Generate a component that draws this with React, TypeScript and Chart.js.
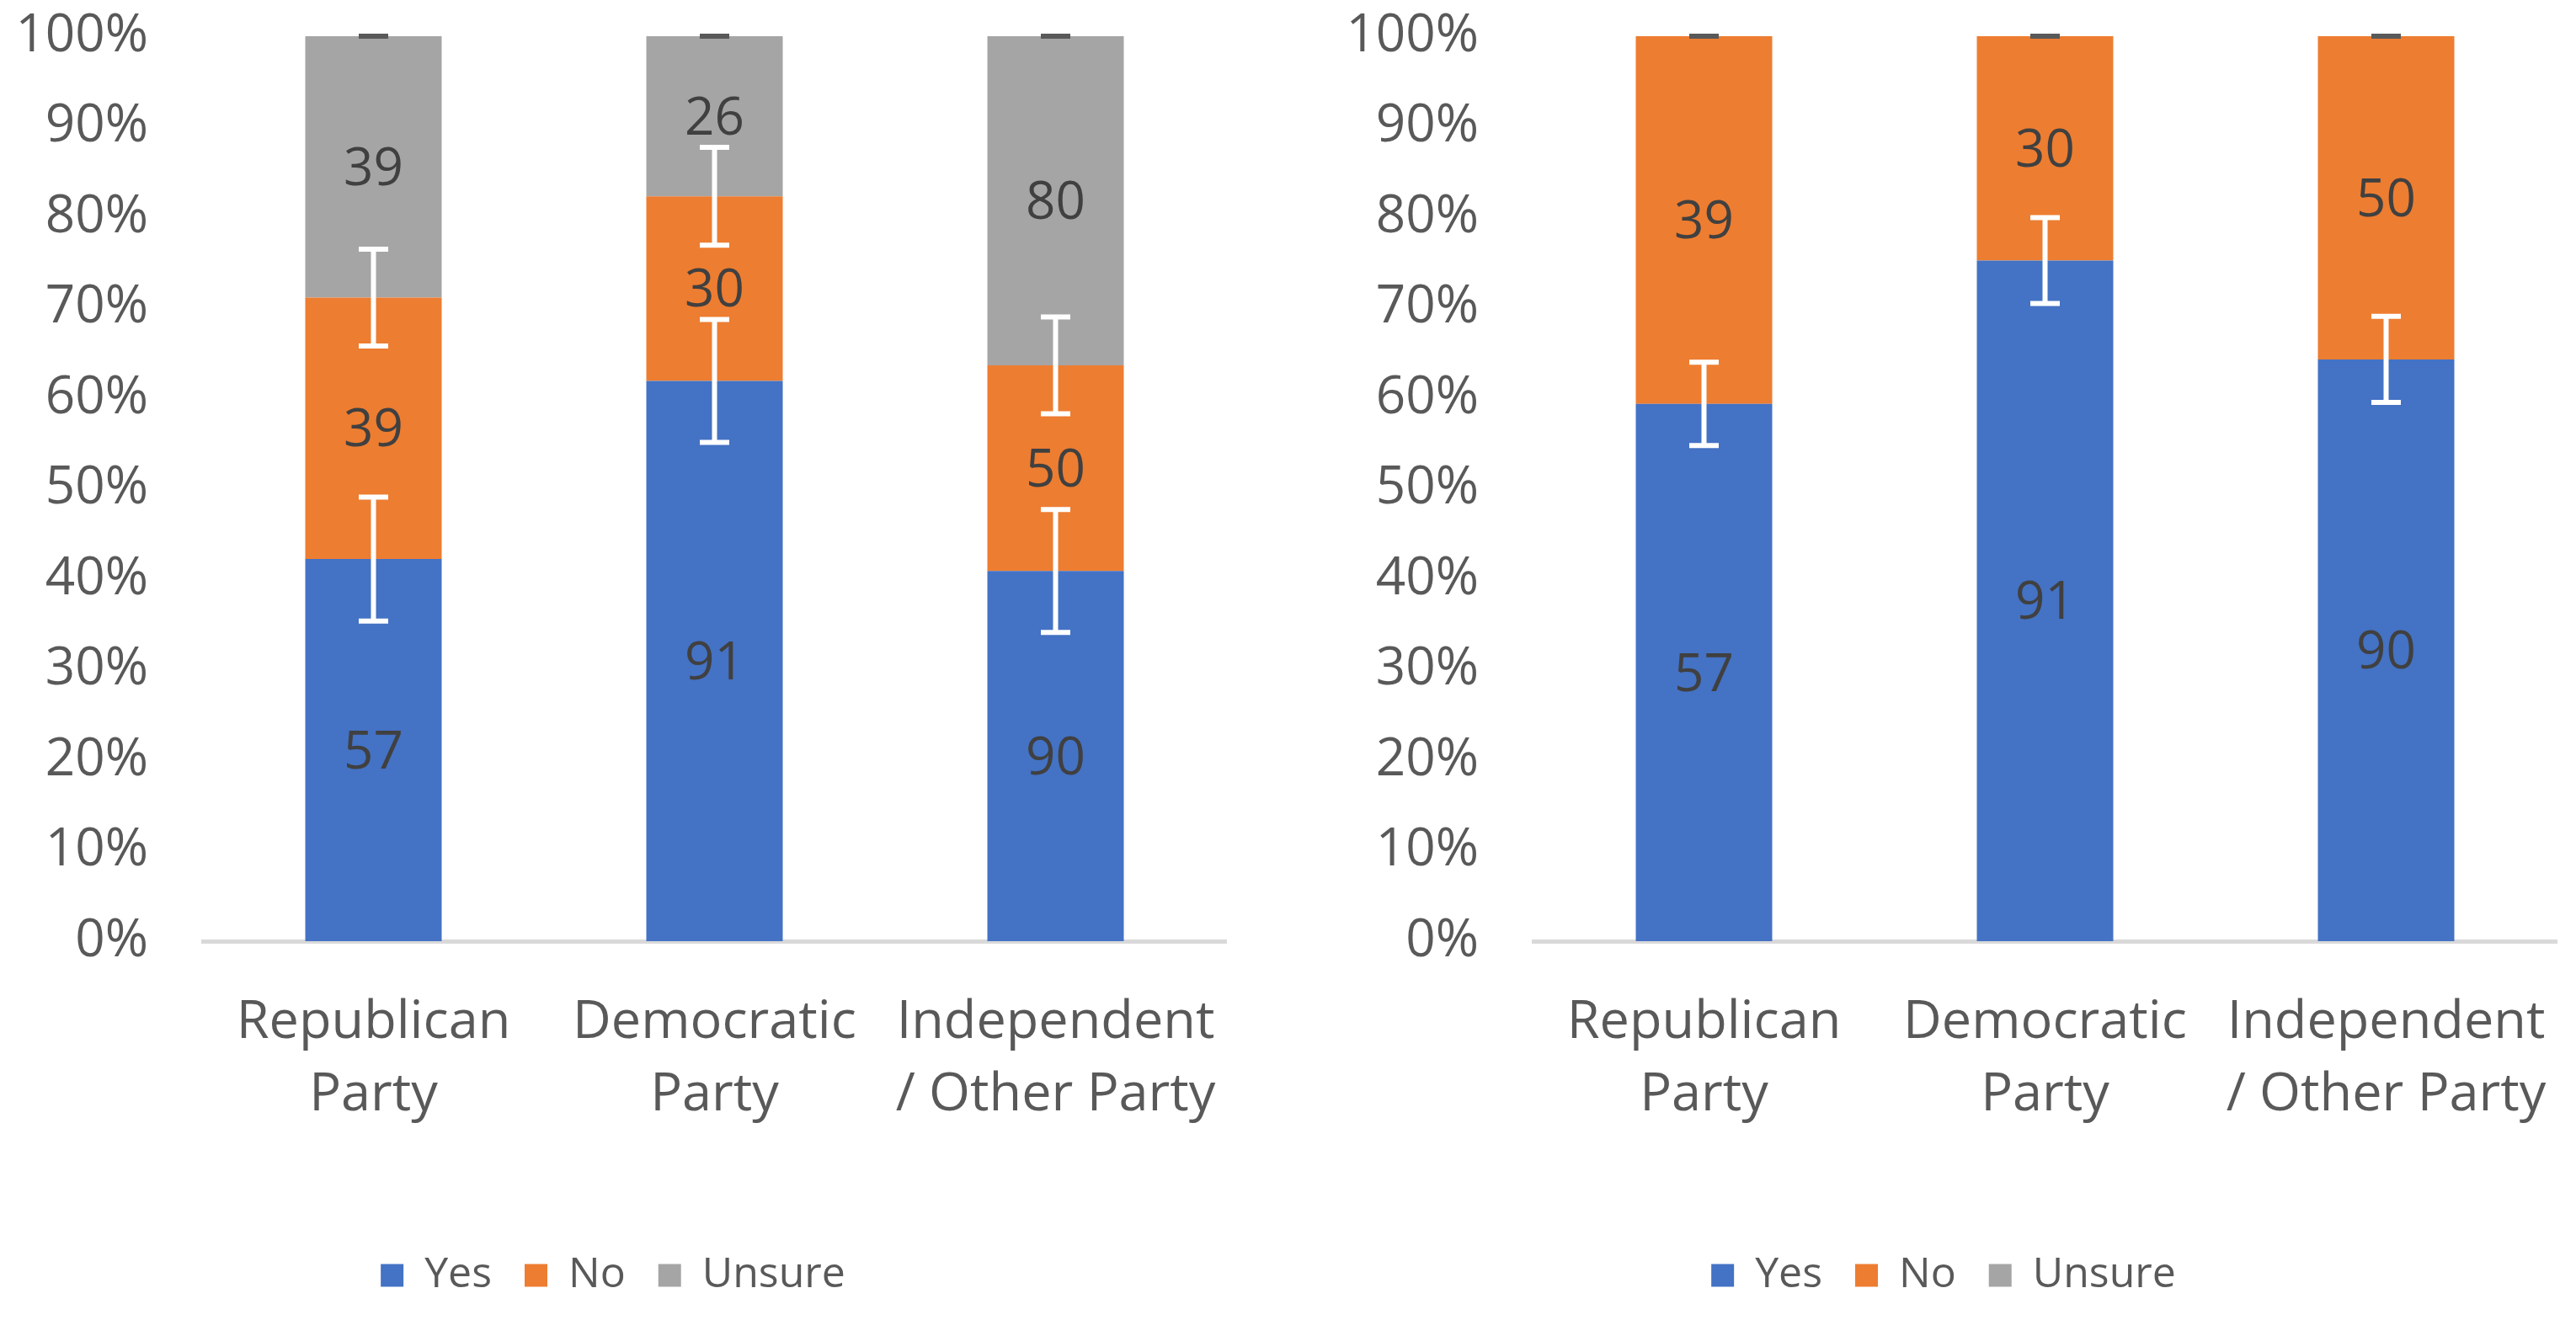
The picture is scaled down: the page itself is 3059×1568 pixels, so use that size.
import React, { useEffect, useRef } from "react";
import { Chart, registerables } from "chart.js";

Chart.register(...registerables);

// ---- data ----
const categories = [
  ["Republican", "Party"],
  ["Democratic", "Party"],
  ["Independent", "/ Other Party"],
];
const seriesNames = ["Yes", "No", "Unsure"];
const seriesColors = ["#4472C4", "#ED7D31", "#A5A5A5"];

// counts shown as data labels (left chart)
const leftYes = [57, 91, 90];
const leftNo = [39, 30, 50];
const leftUnsure = [39, 26, 80];
// counts shown as data labels (right chart)
const rightYes = [57, 91, 90];
const rightNo = [39, 30, 50];
const rightUnsure = [0, 0, 0];

// error margins, percentage points
const leftYesErr = [6.85, 6.8, 6.8];
const leftNoErr = [5.35, 5.4, 5.35];
const leftUnsureErr = [0, 0, 0];
const rightYesErr = [4.6, 4.75, 4.75];
const rightUnsureErr = [0, 0, 0];

const yMin = 0;
const yMax = 100;
const yStep = 10;

// ---- style ----
const FONT = "'Open Sans', 'Noto Sans', sans-serif";
const TICK_COLOR = "#595959";
const LABEL_COLOR = "#404040";
const CANVAS_W = 1479;
const CANVAS_H = 1568;
const RIGHT_OFFSET = 1580;

function toShares(series: number[][]): number[][] {
  return series.map((s) =>
    s.map((v, j) => {
      const total = series.reduce((acc, ss) => acc + ss[j], 0);
      return total ? (v / total) * 100 : 0;
    })
  );
}

const errorBarPlugin = {
  id: "errorBars",
  afterDatasetsDraw(chart: any) {
    const ctx = chart.ctx;
    const yScale = chart.scales.y;
    const dsets = chart.data.datasets;
    ctx.save();
    dsets.forEach((ds: any, i: number) => {
      if (!ds.errors) return;
      const meta = chart.getDatasetMeta(i);
      meta.data.forEach((bar: any, j: number) => {
        let top = 0;
        for (let k = 0; k <= i; k++) top += dsets[k].data[j];
        const err = ds.errors[j];
        const x = bar.x;
        const cap = 35;
        ctx.strokeStyle = ds.errorColor;
        ctx.lineWidth = 6;
        ctx.lineCap = "butt";
        if (err > 0) {
          const yHi = yScale.getPixelForValue(top + err);
          const yLo = yScale.getPixelForValue(top - err);
          ctx.beginPath();
          ctx.moveTo(x, yHi);
          ctx.lineTo(x, yLo);
          ctx.moveTo(x - cap / 2, yHi);
          ctx.lineTo(x + cap / 2, yHi);
          ctx.moveTo(x - cap / 2, yLo);
          ctx.lineTo(x + cap / 2, yLo);
          ctx.stroke();
        } else {
          const yc = yScale.getPixelForValue(top);
          ctx.beginPath();
          ctx.moveTo(x - cap / 2, yc);
          ctx.lineTo(x + cap / 2, yc);
          ctx.stroke();
        }
      });
    });
    ctx.restore();
  },
};

const dataLabelPlugin = {
  id: "segmentLabels",
  afterDatasetsDraw(chart: any) {
    const ctx = chart.ctx;
    ctx.save();
    ctx.font = `62px ${FONT}`;
    ctx.fillStyle = LABEL_COLOR;
    ctx.textAlign = "center";
    ctx.textBaseline = "middle";
    chart.data.datasets.forEach((ds: any, i: number) => {
      const meta = chart.getDatasetMeta(i);
      meta.data.forEach((bar: any, j: number) => {
        const c = ds.counts[j];
        if (!c) return;
        const yc = (bar.y + bar.base) / 2 + 4;
        ctx.fillText(String(c), bar.x, yc);
      });
    });
    ctx.restore();
  },
};

function makeConfig(counts: number[][], errs: (number[] | null)[], errColors: string[]) {
  const shares = toShares(counts);
  return {
    type: "bar" as const,
    data: {
      labels: categories,
      datasets: seriesNames.map((name, i) => ({
        label: name,
        data: shares[i],
        counts: counts[i],
        errors: errs[i],
        errorColor: errColors[i],
        backgroundColor: seriesColors[i],
        borderWidth: 0,
        barPercentage: 0.4,
        categoryPercentage: 1,
      })),
    },
    options: {
      responsive: false,
      animation: false,
      devicePixelRatio: 1,
      layout: { padding: { top: 43, bottom: 18, left: 0, right: 23 } },
      plugins: {
        tooltip: { enabled: false },
        legend: {
          position: "bottom",
          align: "center",
          labels: {
            boxWidth: 27,
            boxHeight: 27,
            padding: 39,
            color: TICK_COLOR,
            font: { family: FONT, size: 50 },
          },
        },
      },
      scales: {
        x: {
          stacked: true,
          grid: { display: false, drawTicks: false },
          border: { display: true, color: "#D9D9D9", width: 5 },
          ticks: {
            color: TICK_COLOR,
            padding: 55,
            maxRotation: 0,
            autoSkip: false,
            font: { family: FONT, size: 63, lineHeight: 1.35 },
          },
          afterFit: (s: any) => {
            s.height = 333;
            s.paddingLeft = 0;
            s.paddingRight = 0;
          },
        },
        y: {
          stacked: true,
          min: yMin,
          max: yMax,
          grid: { display: false, drawTicks: false },
          border: { display: false },
          ticks: {
            stepSize: yStep,
            color: TICK_COLOR,
            padding: 65,
            font: { family: FONT, size: 62 },
            callback: (v: any) => `${v}%`,
          },
          afterFit: (s: any) => {
            s.width = 241;
            s.paddingTop = 0;
            s.paddingBottom = 0;
          },
        },
      },
    },
    plugins: [errorBarPlugin, dataLabelPlugin],
  };
}

function BarChart({ counts, errs, errColors, left }: any) {
  const ref = useRef<HTMLCanvasElement>(null);
  useEffect(() => {
    if (!ref.current) return;
    const chart = new Chart(ref.current, makeConfig(counts, errs, errColors) as any);
    return () => chart.destroy();
  }, []);
  return (
    <canvas
      ref={ref}
      width={CANVAS_W}
      height={CANVAS_H}
      style={{ position: "absolute", left, top: 0, width: CANVAS_W, height: CANVAS_H }}
    />
  );
}

export default function App() {
  useEffect(() => {
    document.body.style.margin = "0";
    document.body.style.background = "#ffffff";
  }, []);
  return (
    <div style={{ position: "relative", width: 3059, height: 1568, background: "#fff", overflow: "hidden" }}>
      <BarChart
        left={0}
        counts={[leftYes, leftNo, leftUnsure]}
        errs={[leftYesErr, leftNoErr, leftUnsureErr]}
        errColors={["#FFFFFF", "#FFFFFF", "#595959"]}
      />
      <BarChart
        left={RIGHT_OFFSET}
        counts={[rightYes, rightNo, rightUnsure]}
        errs={[rightYesErr, null, rightUnsureErr]}
        errColors={["#FFFFFF", "#FFFFFF", "#595959"]}
      />
    </div>
  );
}
